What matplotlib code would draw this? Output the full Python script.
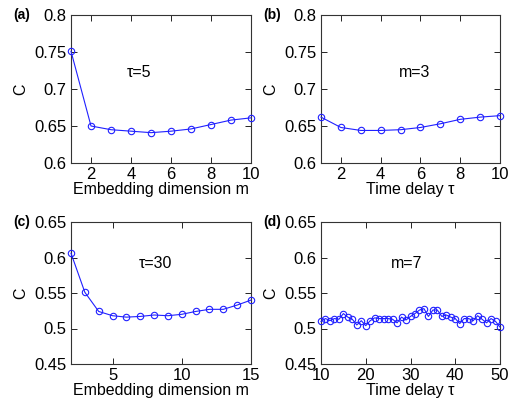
import matplotlib
matplotlib.use("Agg")
import matplotlib.pyplot as plt
import numpy as np

plt.rcParams['font.family'] = ['Liberation Sans', 'DejaVu Sans']

# Panel (a): tau=5, embedding dimension m
m_a = [1, 2, 3, 4, 5, 6, 7, 8, 9, 10]
c_a = [0.751, 0.650, 0.645, 0.643, 0.641, 0.643, 0.646, 0.652, 0.658, 0.661]

# Panel (b): m=3, time delay tau
tau_b = [1, 2, 3, 4, 5, 6, 7, 8, 9, 10]
c_b = [0.662, 0.648, 0.644, 0.644, 0.645, 0.648, 0.653, 0.659, 0.662, 0.664]

# Panel (c): tau=30, embedding dimension m
m_c = [2, 3, 4, 5, 6, 7, 8, 9, 10, 11, 12, 13, 14, 15]
c_c = [0.606, 0.551, 0.524, 0.518, 0.516, 0.517, 0.519, 0.518, 0.520, 0.524,
       0.527, 0.527, 0.533, 0.540]

# Panel (d): m=7, time delay tau
tau_d = list(range(10, 51))
c_d = [0.510, 0.514, 0.511, 0.514, 0.513, 0.521, 0.516, 0.513, 0.505, 0.511,
       0.504, 0.511, 0.515, 0.514, 0.514, 0.514, 0.513, 0.508, 0.516, 0.512,
       0.517, 0.521, 0.526, 0.528, 0.517, 0.526, 0.526, 0.517, 0.519, 0.516,
       0.514, 0.507, 0.514, 0.514, 0.511, 0.518, 0.513, 0.508, 0.514, 0.510,
       0.502]

W, H = 509, 403
fig = plt.figure(figsize=(W / 100, H / 100), dpi=100)

def box(l, t, r, b):
    return [l / W, 1 - b / H, (r - l) / W, (b - t) / H]

panels = [
    dict(rect=box(71, 15, 251, 163), x=m_a, y=c_a, xlim=(1, 10), ylim=(0.6, 0.8),
         xticks=[2, 4, 6, 8, 10], yticks=[0.6, 0.65, 0.7, 0.75, 0.8],
         yticklabels=['0.6', '0.65', '0.7', '0.75', '0.8'],
         xlabel='Embedding dimension m', label='(a)', note='τ=5', note_xy=(4.4, 0.722)),
    dict(rect=box(321, 15, 500, 163), x=tau_b, y=c_b, xlim=(1, 10), ylim=(0.6, 0.8),
         xticks=[2, 4, 6, 8, 10], yticks=[0.6, 0.65, 0.7, 0.75, 0.8],
         yticklabels=['0.6', '0.65', '0.7', '0.75', '0.8'],
         xlabel='Time delay τ', label='(b)', note='m=3', note_xy=(5.7, 0.722)),
    dict(rect=box(71, 222, 251, 364), x=m_c, y=c_c, xlim=(2, 15), ylim=(0.45, 0.65),
         xticks=[5, 10, 15], yticks=[0.45, 0.5, 0.55, 0.6, 0.65],
         yticklabels=['0.45', '0.5', '0.55', '0.6', '0.65'],
         xlabel='Embedding dimension m', label='(c)', note='τ=30', note_xy=(8.1, 0.592)),
    dict(rect=box(321, 222, 500, 364), x=tau_d, y=c_d, xlim=(10, 50), ylim=(0.45, 0.65),
         xticks=[10, 20, 30, 40, 50], yticks=[0.45, 0.5, 0.55, 0.6, 0.65],
         yticklabels=['0.45', '0.5', '0.55', '0.6', '0.65'],
         xlabel='Time delay τ', label='(d)', note='m=7', note_xy=(29.2, 0.592)),
]

for p in panels:
    ax = fig.add_axes(p['rect'])
    ax.plot(p['x'], p['y'], color='#2020ff', lw=0.8, marker='o', ms=4.6,
            mfc='none', mec='#2020ff', mew=0.8, clip_on=False, zorder=3)
    ax.set_xlim(*p['xlim'])
    ax.set_ylim(*p['ylim'])
    ax.set_xticks(p['xticks'])
    ax.set_yticks(p['yticks'])
    ax.set_yticklabels(p['yticklabels'])
    ax.tick_params(direction='in', top=True, right=True, length=4, width=0.6,
                   labelsize=12, colors='#000000')
    ax.tick_params(axis='x', pad=3)
    ax.tick_params(axis='y', pad=3.5)
    for s in ax.spines.values():
        s.set_linewidth(0.8)
        s.set_color('#333333')
    ax.set_xlabel(p['xlabel'], fontsize=11.5, labelpad=0)
    ax.set_ylabel('C', fontsize=11.5, labelpad=4)
    ax.text(*p['note_xy'], p['note'], fontsize=11.5, ha='center', va='center')
    l, b, w, h = p['rect']
    fig.text(l - 58 / W, b + h, p['label'], fontsize=10, ha='left', va='center',
             fontweight='bold')

fig.savefig('out.png', dpi=100)
